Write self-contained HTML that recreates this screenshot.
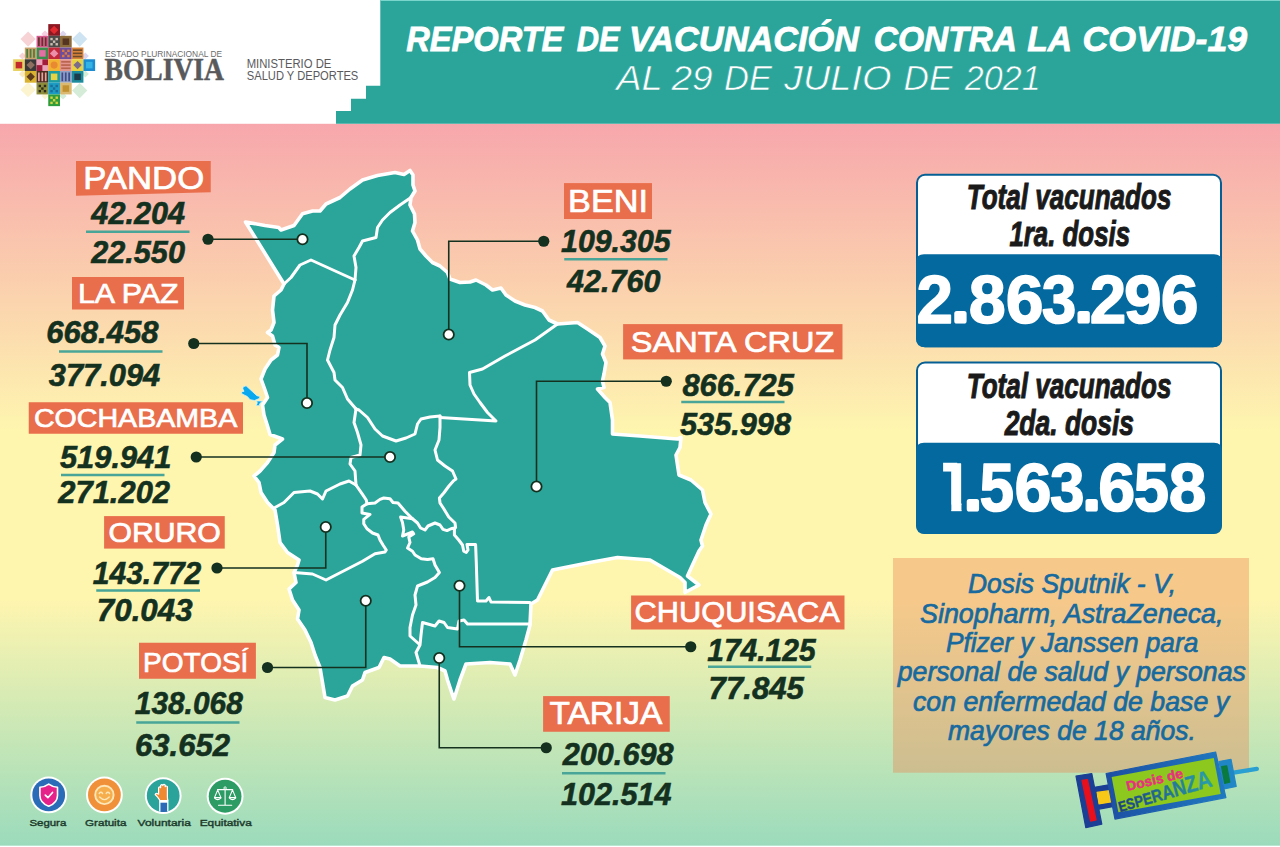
<!DOCTYPE html>
<html lang="es"><head><meta charset="utf-8"><title>Reporte de vacunación contra la COVID-19</title>
<style>
html,body{margin:0;padding:0;background:#fff;}
body{width:1280px;height:847px;overflow:hidden;font-family:"Liberation Sans",sans-serif;}
svg{display:block;}
text{font-family:"Liberation Sans",sans-serif;}
.serif{font-family:"Liberation Serif",serif;}
</style></head><body>
<svg width="1280" height="847" viewBox="0 0 1280 847">
<defs>
<linearGradient id="bg" x1="0" y1="0" x2="0" y2="1">
<stop offset="0" stop-color="#f7a7ac"/>
<stop offset="0.4245" stop-color="#fef5af"/>
<stop offset="0.66" stop-color="#fef5af"/>
<stop offset="1" stop-color="#9bdbbc"/>
</linearGradient>
<linearGradient id="esp" x1="0" y1="0" x2="1" y2="0">
<stop offset="0" stop-color="#1b3f80"/><stop offset="1" stop-color="#2aa0a8"/>
</linearGradient>
<linearGradient id="barrel" x1="0" y1="0" x2="1" y2="0">
<stop offset="0" stop-color="#1d4fa3"/><stop offset="1" stop-color="#1f79c0"/>
</linearGradient>
</defs>

<rect x="0" y="0" width="1280" height="847" fill="#fff"/>
<rect x="0" y="123.8" width="1280" height="721.9" fill="url(#bg)"/>
<path d="M380.3,0 H1280 V123.8 H336 V111.1 H351 V98.7 H366 V85.8 H380.3 Z" fill="#2ba59a"/>
<rect x="380.3" y="0" width="899.7" height="1" fill="#7ad6cc"/>
<text x="406.23" y="50.85" font-size="35.5" font-weight="bold" font-style="italic" fill="#fff" stroke="#fff" stroke-width="0.8" textLength="157.11" lengthAdjust="spacingAndGlyphs">REPORTE</text>
<text x="576.76" y="50.85" font-size="35.5" font-weight="bold" font-style="italic" fill="#fff" stroke="#fff" stroke-width="0.8" textLength="42.94" lengthAdjust="spacingAndGlyphs">DE</text>
<text x="628.97" y="50.85" font-size="35.5" font-weight="bold" font-style="italic" fill="#fff" stroke="#fff" stroke-width="0.8" textLength="229.99" lengthAdjust="spacingAndGlyphs">VACUNACIÓN</text>
<text x="873.72" y="50.85" font-size="35.5" font-weight="bold" font-style="italic" fill="#fff" stroke="#fff" stroke-width="0.8" textLength="143.30" lengthAdjust="spacingAndGlyphs">CONTRA</text>
<text x="1027.31" y="50.85" font-size="35.5" font-weight="bold" font-style="italic" fill="#fff" stroke="#fff" stroke-width="0.8" textLength="44.74" lengthAdjust="spacingAndGlyphs">LA</text>
<text x="1082.62" y="50.85" font-size="35.5" font-weight="bold" font-style="italic" fill="#fff" stroke="#fff" stroke-width="0.8" textLength="164.57" lengthAdjust="spacingAndGlyphs">COVID-19</text>
<text x="616.25" y="90.3" font-size="34.9" font-style="italic" fill="#fff" stroke="#2ba59a" stroke-width="0.6" textLength="46.48" lengthAdjust="spacingAndGlyphs">AL</text>
<text x="671.49" y="90.3" font-size="34.9" font-style="italic" fill="#fff" stroke="#2ba59a" stroke-width="0.6" textLength="41.24" lengthAdjust="spacingAndGlyphs">29</text>
<text x="724.06" y="90.3" font-size="34.9" font-style="italic" fill="#fff" stroke="#2ba59a" stroke-width="0.6" textLength="47.95" lengthAdjust="spacingAndGlyphs">DE</text>
<text x="784.09" y="90.3" font-size="34.9" font-style="italic" fill="#fff" stroke="#2ba59a" stroke-width="0.6" textLength="107.31" lengthAdjust="spacingAndGlyphs">JULIO</text>
<text x="903.64" y="90.3" font-size="34.9" font-style="italic" fill="#fff" stroke="#2ba59a" stroke-width="0.6" textLength="48.86" lengthAdjust="spacingAndGlyphs">DE</text>
<text x="964.87" y="90.3" font-size="34.9" font-style="italic" fill="#fff" stroke="#2ba59a" stroke-width="0.6" textLength="75.82" lengthAdjust="spacingAndGlyphs">2021</text>
<path d="M28.1,31.5 L35.7,39.1 L28.1,46.7 L20.5,39.1 Z" fill="#f8d3d6"/>
<path d="M79.7,31.5 L87.3,39.1 L79.7,46.7 L72.10000000000001,39.1 Z" fill="#cfe4f2"/>
<path d="M28.1,82.10000000000001 L35.7,89.7 L28.1,97.3 L20.5,89.7 Z" fill="#fbf4cf"/>
<path d="M79.7,83.0 L87.3,90.6 L79.7,98.19999999999999 L72.10000000000001,90.6 Z" fill="#d4ecd8"/>
<path d="M45,30.4 L48.6,34 L45,37.6 L41.4,34 Z" fill="#f6cfe0"/>
<path d="M63,30.4 L66.6,34 L63,37.6 L59.4,34 Z" fill="#ddd5ee"/>
<path d="M85.3,52.4 L88.89999999999999,56 L85.3,59.6 L81.7,56 Z" fill="#ddd5ee"/>
<path d="M85.3,70.4 L88.89999999999999,74 L85.3,77.6 L81.7,74 Z" fill="#d4ecd8"/>
<path d="M22.5,52.4 L26.1,56 L22.5,59.6 L18.9,56 Z" fill="#f8d3d6"/>
<path d="M22.5,70.4 L26.1,74 L22.5,77.6 L18.9,74 Z" fill="#fbe9c0"/>
<path d="M45,92.4 L48.6,96 L45,99.6 L41.4,96 Z" fill="#fbf4cf"/>
<path d="M63,92.4 L66.6,96 L63,99.6 L59.4,96 Z" fill="#d4ecd8"/>
<rect x="48.26" y="24.10" width="11.72" height="11.72" fill="#8b1822"/>
<path d="M54.12,25.74 L58.34,29.96 L54.12,34.18 L49.90,29.96 Z" fill="#e02a30"/>
<rect x="36.54" y="35.82" width="11.72" height="11.72" fill="#d65a8e"/>
<rect x="38.04" y="37.32" width="1.7" height="8.72" fill="#5e3526"/>
<rect x="41.44" y="37.32" width="1.7" height="8.72" fill="#5e3526"/>
<rect x="44.84" y="37.32" width="1.7" height="8.72" fill="#5e3526"/>
<rect x="48.26" y="35.82" width="11.72" height="11.72" fill="#4d4a4a"/>
<rect x="50.32" y="37.88" width="2.4" height="2.4" fill="#cdbfb2"/>
<rect x="55.52" y="37.88" width="2.4" height="2.4" fill="#cdbfb2"/>
<rect x="50.32" y="43.08" width="2.4" height="2.4" fill="#cdbfb2"/>
<rect x="55.52" y="43.08" width="2.4" height="2.4" fill="#cdbfb2"/>
<rect x="52.92" y="40.48" width="2.4" height="2.4" fill="#cdbfb2"/>
<rect x="59.98" y="35.82" width="11.72" height="11.72" fill="#8d6c3c"/>
<rect x="62.58" y="38.42" width="6.52" height="6.52" fill="#553522"/>
<rect x="24.82" y="47.54" width="11.72" height="11.72" fill="#c7a06c"/>
<rect x="26.32" y="49.04" width="1.7" height="8.72" fill="#4c7c3c"/>
<rect x="29.72" y="49.04" width="1.7" height="8.72" fill="#4c7c3c"/>
<rect x="33.12" y="49.04" width="1.7" height="8.72" fill="#4c7c3c"/>
<rect x="36.54" y="47.54" width="11.72" height="11.72" fill="#3c8d4c"/>
<rect x="39.14" y="50.14" width="6.52" height="6.52" fill="#e56fa5"/>
<rect x="48.26" y="47.54" width="11.72" height="11.72" fill="#c22a3c"/>
<path d="M54.12,49.18 L58.34,53.40 L54.12,57.62 L49.90,53.40 Z" fill="#eb8fab"/>
<rect x="59.98" y="47.54" width="11.72" height="11.72" fill="#6c4e9c"/>
<rect x="62.04" y="49.60" width="2.4" height="2.4" fill="#e07a3c"/>
<rect x="67.24" y="49.60" width="2.4" height="2.4" fill="#e07a3c"/>
<rect x="62.04" y="54.80" width="2.4" height="2.4" fill="#e07a3c"/>
<rect x="67.24" y="54.80" width="2.4" height="2.4" fill="#e07a3c"/>
<rect x="64.64" y="52.20" width="2.4" height="2.4" fill="#e07a3c"/>
<rect x="71.70" y="47.54" width="11.72" height="11.72" fill="#d8843c"/>
<rect x="72.90" y="49.34" width="9.32" height="1.6" fill="#6c4a2a"/>
<rect x="72.90" y="52.54" width="9.32" height="1.6" fill="#6c4a2a"/>
<rect x="72.90" y="55.74" width="9.32" height="1.6" fill="#6c4a2a"/>
<rect x="13.10" y="59.26" width="11.72" height="11.72" fill="#e9d262"/>
<rect x="15.70" y="61.86" width="6.52" height="6.52" fill="#c22a2c"/>
<rect x="24.82" y="59.26" width="11.72" height="11.72" fill="#3a3838"/>
<path d="M30.68,60.90 L34.90,65.12 L30.68,69.34 L26.46,65.12 Z" fill="#8f6f5f"/>
<rect x="36.54" y="59.26" width="11.72" height="11.72" fill="#a21c3c"/>
<rect x="36.54" y="59.26" width="5.86" height="5.86" fill="#eaa3ba"/><rect x="42.40" y="65.12" width="5.86" height="5.86" fill="#eaa3ba"/>
<rect x="48.26" y="59.26" width="11.72" height="11.72" fill="#f2b232"/>
<circle cx="54.12" cy="65.12" r="3.52" fill="#e98a32"/>
<rect x="59.98" y="59.26" width="11.72" height="11.72" fill="#e3948c"/>
<rect x="61.18" y="61.06" width="9.32" height="1.6" fill="#b9624c"/>
<rect x="61.18" y="64.26" width="9.32" height="1.6" fill="#b9624c"/>
<rect x="61.18" y="67.46" width="9.32" height="1.6" fill="#b9624c"/>
<rect x="71.70" y="59.26" width="11.72" height="11.72" fill="#e9d242"/>
<path d="M77.56,60.90 L81.78,65.12 L77.56,69.34 L73.34,65.12 Z" fill="#7c6c8c"/>
<rect x="83.42" y="59.26" width="11.72" height="11.72" fill="#1c8cd2"/>
<rect x="86.02" y="61.86" width="6.52" height="6.52" fill="#34b4e4"/>
<rect x="24.82" y="70.98" width="11.72" height="11.72" fill="#dab232"/>
<path d="M30.68,72.62 L34.90,76.84 L30.68,81.06 L26.46,76.84 Z" fill="#5c3c1c"/>
<rect x="36.54" y="70.98" width="11.72" height="11.72" fill="#4c2c1c"/>
<rect x="38.04" y="72.48" width="1.7" height="8.72" fill="#e9a3a3"/>
<rect x="41.44" y="72.48" width="1.7" height="8.72" fill="#e9a3a3"/>
<rect x="44.84" y="72.48" width="1.7" height="8.72" fill="#e9a3a3"/>
<rect x="48.26" y="70.98" width="11.72" height="11.72" fill="#1c9ca2"/>
<rect x="50.86" y="73.58" width="6.52" height="6.52" fill="#e9d242"/>
<rect x="59.98" y="70.98" width="11.72" height="11.72" fill="#909fc4"/>
<rect x="61.48" y="72.48" width="1.7" height="8.72" fill="#3c4c8c"/>
<rect x="64.88" y="72.48" width="1.7" height="8.72" fill="#3c4c8c"/>
<rect x="68.28" y="72.48" width="1.7" height="8.72" fill="#3c4c8c"/>
<rect x="71.70" y="70.98" width="11.72" height="11.72" fill="#1c8c9c"/>
<rect x="74.30" y="73.58" width="6.52" height="6.52" fill="#1c3c4c"/>
<rect x="36.54" y="82.70" width="11.72" height="11.72" fill="#8d8d3c"/>
<rect x="38.60" y="84.76" width="2.4" height="2.4" fill="#2c2a1c"/>
<rect x="43.80" y="84.76" width="2.4" height="2.4" fill="#2c2a1c"/>
<rect x="38.60" y="89.96" width="2.4" height="2.4" fill="#2c2a1c"/>
<rect x="43.80" y="89.96" width="2.4" height="2.4" fill="#2c2a1c"/>
<rect x="41.20" y="87.36" width="2.4" height="2.4" fill="#2c2a1c"/>
<rect x="48.26" y="82.70" width="11.72" height="11.72" fill="#1c9cc2"/>
<rect x="50.32" y="84.76" width="2.4" height="2.4" fill="#1c6c9c"/>
<rect x="55.52" y="84.76" width="2.4" height="2.4" fill="#1c6c9c"/>
<rect x="50.32" y="89.96" width="2.4" height="2.4" fill="#1c6c9c"/>
<rect x="55.52" y="89.96" width="2.4" height="2.4" fill="#1c6c9c"/>
<rect x="52.92" y="87.36" width="2.4" height="2.4" fill="#1c6c9c"/>
<rect x="59.98" y="82.70" width="11.72" height="11.72" fill="#dab972"/>
<rect x="62.58" y="85.30" width="6.52" height="6.52" fill="#c29232"/>
<rect x="48.26" y="94.42" width="11.72" height="11.72" fill="#2c9c3c"/>
<rect x="50.32" y="96.48" width="2.4" height="2.4" fill="#d8d040"/>
<rect x="55.52" y="96.48" width="2.4" height="2.4" fill="#d8d040"/>
<rect x="50.32" y="101.68" width="2.4" height="2.4" fill="#d8d040"/>
<rect x="55.52" y="101.68" width="2.4" height="2.4" fill="#d8d040"/>
<rect x="52.92" y="99.08" width="2.4" height="2.4" fill="#d8d040"/>
<text x="105" y="57" font-size="8.5" fill="#6b6b6b" textLength="117" lengthAdjust="spacingAndGlyphs">ESTADO PLURINACIONAL DE</text>
<text class="serif" x="104.5" y="79.8" font-size="30.5" font-weight="bold" fill="#58595b" stroke="#58595b" stroke-width="0.5" textLength="119.5" lengthAdjust="spacingAndGlyphs">BOLIVIA</text>
<text x="246.67" y="67.8" font-size="12.1" fill="#5a5a5c" textLength="84.72" lengthAdjust="spacingAndGlyphs">MINISTERIO DE</text>
<text x="246.80" y="80" font-size="12.1" fill="#5a5a5c" textLength="111.52" lengthAdjust="spacingAndGlyphs">SALUD Y DEPORTES</text>
<path d="M245.5,222 L265,225.5 L278.75,227.5 L281,230 L294,225.5 L302.5,213.75 L312.5,211 L320,211 L326,204 L340,197.5 L350,189 L362.5,180 L377.5,175.5 L395,172.5 L404,174.5 L410,170.5 L413,175 L413,185 L415,191 L411,197.5 L410,205 L414.5,214 L415,222.5 L412.5,231 L417.5,240 L420,249 L426,256 L432.5,262.5 L440,266 L447.5,272.5 L450,279 L460,282.5 L470,282 L476,280 L486,285 L492.5,290 L501,288 L506,295 L515,301 L525,305 L535,307.5 L542.5,311 L549,320 L557.5,324 L577.5,322.5 L587.5,329 L600,337.5 L605,346 L602.5,354 L606,362.5 L604,374 L602.5,381 L604,387.5 L597.5,389 L605,397.5 L610,402.5 L612.5,420 L612.5,434 L640,436 L677.5,439 L681,437.5 L680,447.5 L676,455 L679,475 L691,480 L702.5,490 L705,502.5 L711,514 L706,525 L701,540 L702.5,546 L699,551 L692.5,565 L687.5,576 L699,585 L685,592.5 L685,582.5 L680,577.5 L650,560 L617.5,557.5 L590,562.5 L552.5,570 L545,585 L537.5,600 L531,604 L530,625 L526,640 L520,660 L515,675 L510,664 L490,662.5 L466,664 L460,680 L454,699 L452.5,695 L447.5,680 L445,671 L437.5,667.5 L420,666 L400,666 L390,659 L384,657.5 L379,667.5 L365,672.5 L362.5,680 L352.5,686 L347.5,696 L335,700 L325,697.5 L322.5,682.5 L320,667.5 L315,655 L311,642.5 L305,630 L297.5,619 L299,610 L292.5,600 L289,589 L296,582.5 L294,572.5 L297.5,565 L299,560 L287.5,552.5 L280,542.5 L277.5,525 L275,510 L267.5,502.5 L261,492.5 L259,482.5 L254,476 L260,471 L267.5,462.5 L274,452.5 L275,445 L282.5,439 L270,434.5 L267.5,426 L264,415 L262.5,405 L267.5,397.5 L265,390 L261,379 L265,369 L271,360 L277.5,355 L279,347.5 L275,345 L272.5,336 L267.5,332.5 L271,330 L274,322.5 L272.5,310 L274,296 L281,290 L284,284 Z" fill="#2ba59a" stroke="#fff" stroke-width="3.6" stroke-linejoin="round"/>
<path d="M284,284 L291,277.5 L300,265 L311,260 L355,280" fill="none" stroke="#fff" stroke-width="3" stroke-linejoin="round" stroke-linecap="round"/>
<path d="M411,197.5 L400,205 L390,212.5 L382.5,220 L377.5,227.5 L376,237.5 L362.5,241 L359,247.5 L354,256 L356,267.5 L355,280" fill="none" stroke="#fff" stroke-width="3" stroke-linejoin="round" stroke-linecap="round"/>
<path d="M355,280 L352.5,290 L347.5,302.5 L340,315 L335,325 L334,337.5 L330,350 L327.5,360 L334,372.5 L335,380 L342.5,387.5 L347.5,399 L356,409" fill="none" stroke="#fff" stroke-width="3" stroke-linejoin="round" stroke-linecap="round"/>
<path d="M356,409 L359,410 L367.5,417.5 L375,429 L382.5,436 L396,441 L406,438 L415,434 L417.5,424 L421,419 L430,417 L440,416" fill="none" stroke="#fff" stroke-width="3" stroke-linejoin="round" stroke-linecap="round"/>
<path d="M440,417.5 L496,421 L487.5,412.5 L480,402.5 L474,394 L470,385 L469.5,372.5 L482.5,369 L505,356 L535,340 L557.5,324" fill="none" stroke="#fff" stroke-width="3" stroke-linejoin="round" stroke-linecap="round"/>
<path d="M356,409 L354,422.5 L357.5,432.5 L361,445 L360,455 L351,457.5 L350,464 L355,471 L356,485" fill="none" stroke="#fff" stroke-width="3" stroke-linejoin="round" stroke-linecap="round"/>
<path d="M275,507.5 L284,502.5 L294,492.5 L310,491 L317.5,494 L322.5,499 L326,491 L340,484 L349,481 L356,485" fill="none" stroke="#fff" stroke-width="3" stroke-linejoin="round" stroke-linecap="round"/>
<path d="M356,485 L362.5,494.4 L366.25,500 L367,503.75" fill="none" stroke="#fff" stroke-width="3" stroke-linejoin="round" stroke-linecap="round"/>
<path d="M367,503.75 L375,503 L380,499.4 L383.75,498 L390,498.75 L393,502.5 L398,503 L405,511.25 L412.5,518.75 L417.5,523 L420.6,528 L425,530 L428,526 L435,523 L440,525 L443,529.4 L447,530.6 L451,528.75 L454.4,528" fill="none" stroke="#fff" stroke-width="3" stroke-linejoin="round" stroke-linecap="round"/>
<path d="M440,416 L440,427.5 L439,440 L435,450 L437.5,460 L445,466 L452.5,471 L456,479 L453.75,480.6 L448.75,486.25 L443.75,493 L439.4,498 L440,503 L443.75,508.75 L448.75,517 L455,523 L455.6,527.5 L454.4,528.75" fill="none" stroke="#fff" stroke-width="3" stroke-linejoin="round" stroke-linecap="round"/>
<path d="M367,503.75 L362,507 L362,513 L370,514.4 L363.75,519.4 L363.75,523.75 L367,528.75 L372.5,533 L378,535 L380,540 L383,545 L386.25,550 L385,552 L375,553.75 L362.5,561.25 L326,580 L312.5,574 L294,572.5" fill="none" stroke="#fff" stroke-width="3" stroke-linejoin="round" stroke-linecap="round"/>
<path d="M412.5,518.75 L400.6,517 L402.5,522.5 L403.75,530 L402.5,536 L412.5,532 L413.75,533.75 L408.75,537 L410,542.5 L407.5,548 L412.5,551.25 L415,555 L421.25,558.75 L427.5,559.4 L433,558.75 L435,565 L439.4,572.5 L435,577.5 L427.5,582 L417.5,586 L415,595 L416,605 L412.5,615 L410,627.5 L410,636 L419,644" fill="none" stroke="#fff" stroke-width="3" stroke-linejoin="round" stroke-linecap="round"/>
<path d="M454.4,528.75 L454.4,535 L458.75,540 L462.5,545 L463.75,551.25 L466.25,552.5 L468,550 L467,544.4 L475.6,544.6 L476.25,561.25 L477.5,601 L486,601 L489,597.5 L491,602 L530,602.5" fill="none" stroke="#fff" stroke-width="3" stroke-linejoin="round" stroke-linecap="round"/>
<path d="M530,624 L467.5,624 L464,620 L459,621 L457.5,629 L447.5,627.5 L444,622.5 L439,621 L435,626 L422.5,622.5 L421,635 L420,645 L416,652.5 L420,666" fill="none" stroke="#fff" stroke-width="3" stroke-linejoin="round" stroke-linecap="round"/>
<path d="M243.2,386.8 L246.1,385.8 L252.1,391.3 L256.9,395.7 L260.1,396.5 L259.3,398.5 L254.5,400.5 L250.1,399.7 L247.3,396.5 L244,394.9 L241.2,393.3 L242,391.7 L244,391.3 L242.8,388.8 Z M256.5,400.9 L262.5,401.1 L259.7,403.7 L259.3,405.7 L256.1,405.7 L257.3,402.9 Z" fill="#08a8ee" stroke="#d8f6f6" stroke-width="0.8" stroke-linejoin="round"/>
<path d="M208,239.25 L302.5,239.25" fill="none" stroke="#14301f" stroke-width="1.6"/>
<circle cx="208" cy="239.25" r="5.6" fill="#14301f"/>
<circle cx="302.5" cy="239.25" r="5.15" fill="#fff" stroke="#14301f" stroke-width="1.8"/>
<path d="M193.75,343.5 L307,343.5 L307,403" fill="none" stroke="#14301f" stroke-width="1.6"/>
<circle cx="193.75" cy="343.5" r="5.6" fill="#14301f"/>
<circle cx="307" cy="403" r="5.15" fill="#fff" stroke="#14301f" stroke-width="1.8"/>
<path d="M196.25,457 L390,457" fill="none" stroke="#14301f" stroke-width="1.6"/>
<circle cx="196.25" cy="457" r="5.6" fill="#14301f"/>
<circle cx="390" cy="457" r="5.15" fill="#fff" stroke="#14301f" stroke-width="1.8"/>
<path d="M217,568 L325.75,568 L325.75,527" fill="none" stroke="#14301f" stroke-width="1.6"/>
<circle cx="217" cy="568" r="5.6" fill="#14301f"/>
<circle cx="325.75" cy="527" r="5.15" fill="#fff" stroke="#14301f" stroke-width="1.8"/>
<path d="M267.5,667.5 L365.75,667.5 L365.75,600.75" fill="none" stroke="#14301f" stroke-width="1.6"/>
<circle cx="267.5" cy="667.5" r="5.6" fill="#14301f"/>
<circle cx="365.75" cy="600.75" r="5.15" fill="#fff" stroke="#14301f" stroke-width="1.8"/>
<path d="M543.75,241.25 L448.75,241.25 L448.75,334.5" fill="none" stroke="#14301f" stroke-width="1.6"/>
<circle cx="543.75" cy="241.25" r="5.6" fill="#14301f"/>
<circle cx="448.75" cy="334.5" r="5.15" fill="#fff" stroke="#14301f" stroke-width="1.8"/>
<path d="M666.25,381.25 L536.5,381.25 L536.5,486.5" fill="none" stroke="#14301f" stroke-width="1.6"/>
<circle cx="666.25" cy="381.25" r="5.6" fill="#14301f"/>
<circle cx="536.5" cy="486.5" r="5.15" fill="#fff" stroke="#14301f" stroke-width="1.8"/>
<path d="M690.75,646.75 L459.5,646.75 L459.5,585.75" fill="none" stroke="#14301f" stroke-width="1.6"/>
<circle cx="690.75" cy="646.75" r="5.6" fill="#14301f"/>
<circle cx="459.5" cy="585.75" r="5.15" fill="#fff" stroke="#14301f" stroke-width="1.8"/>
<path d="M546.25,747.75 L439.25,747.75 L439.25,658" fill="none" stroke="#14301f" stroke-width="1.6"/>
<circle cx="546.25" cy="747.75" r="5.6" fill="#14301f"/>
<circle cx="439.25" cy="658" r="5.15" fill="#fff" stroke="#14301f" stroke-width="1.8"/>
<path d="M76,161 H210.75 V192.25 L76,195.75 Z" fill="#e96e4c"/>
<text x="83.23" y="188.90" font-size="31.32" fill="#fff" stroke="#fff" stroke-width="0.7" textLength="120.95" lengthAdjust="spacingAndGlyphs">PANDO</text>
<rect x="72" y="277" width="112" height="32.5" fill="#e96e4c"/>
<text x="77.92" y="302.65" font-size="28.42" fill="#fff" stroke="#fff" stroke-width="0.7" textLength="100.69" lengthAdjust="spacingAndGlyphs">LA PAZ</text>
<rect x="28.75" y="402.25" width="214.25" height="31.5" fill="#e96e4c"/>
<text x="33.92" y="427.40" font-size="26.24" fill="#fff" stroke="#fff" stroke-width="0.7" textLength="203.30" lengthAdjust="spacingAndGlyphs">COCHABAMBA</text>
<rect x="104.1" y="516.1" width="120.65" height="32.5" fill="#e96e4c"/>
<text x="108.42" y="541.65" font-size="26.96" fill="#fff" stroke="#fff" stroke-width="0.7" textLength="112.41" lengthAdjust="spacingAndGlyphs">ORURO</text>
<rect x="139" y="642.75" width="116.9" height="36" fill="#e96e4c"/>
<text x="143.04" y="671.75" font-size="26.74" fill="#fff" stroke="#fff" stroke-width="0.7" textLength="105.37" lengthAdjust="spacingAndGlyphs">POTOSÍ</text>
<rect x="564" y="183.1" width="88" height="35.9" fill="#e96e4c"/>
<text x="568.12" y="211.75" font-size="30.74" fill="#fff" stroke="#fff" stroke-width="0.7" textLength="80.00" lengthAdjust="spacingAndGlyphs">BENI</text>
<rect x="623.1" y="324.1" width="219.4" height="35.3" fill="#e96e4c"/>
<text x="630.79" y="351.90" font-size="30.23" fill="#fff" stroke="#fff" stroke-width="0.7" textLength="203.59" lengthAdjust="spacingAndGlyphs">SANTA CRUZ</text>
<rect x="631.1" y="595.5" width="213.4" height="34" fill="#e96e4c"/>
<text x="634.56" y="621.65" font-size="29.36" fill="#fff" stroke="#fff" stroke-width="0.7" textLength="205.17" lengthAdjust="spacingAndGlyphs">CHUQUISACA</text>
<rect x="543.1" y="696.1" width="126.65" height="35.65" fill="#e96e4c"/>
<text x="549.60" y="723.90" font-size="31.32" fill="#fff" stroke="#fff" stroke-width="0.7" textLength="112.66" lengthAdjust="spacingAndGlyphs">TARIJA</text>
<text x="91.34" y="224.1" font-size="31.8" font-weight="bold" font-style="italic" fill="#14301f" stroke="#14301f" stroke-width="0.6" textLength="93.86" lengthAdjust="spacingAndGlyphs">42.204</text>
<text x="91.26" y="262.6" font-size="31.8" font-weight="bold" font-style="italic" fill="#14301f" stroke="#14301f" stroke-width="0.6" textLength="93.71" lengthAdjust="spacingAndGlyphs">22.550</text>
<text x="46.33" y="343.35" font-size="31.8" font-weight="bold" font-style="italic" fill="#14301f" stroke="#14301f" stroke-width="0.6" textLength="112.20" lengthAdjust="spacingAndGlyphs">668.458</text>
<text x="48.82" y="385.85" font-size="31.8" font-weight="bold" font-style="italic" fill="#14301f" stroke="#14301f" stroke-width="0.6" textLength="111.42" lengthAdjust="spacingAndGlyphs">377.094</text>
<text x="59.99" y="468.35" font-size="31.8" font-weight="bold" font-style="italic" fill="#14301f" stroke="#14301f" stroke-width="0.6" textLength="111.40" lengthAdjust="spacingAndGlyphs">519.941</text>
<text x="58.26" y="503.35" font-size="31.8" font-weight="bold" font-style="italic" fill="#14301f" stroke="#14301f" stroke-width="0.6" textLength="111.82" lengthAdjust="spacingAndGlyphs">271.202</text>
<text x="92.77" y="584.1" font-size="31.8" font-weight="bold" font-style="italic" fill="#14301f" stroke="#14301f" stroke-width="0.6" textLength="108.55" lengthAdjust="spacingAndGlyphs">143.772</text>
<text x="96.86" y="620.85" font-size="31.8" font-weight="bold" font-style="italic" fill="#14301f" stroke="#14301f" stroke-width="0.6" textLength="95.69" lengthAdjust="spacingAndGlyphs">70.043</text>
<text x="134.78" y="714.1" font-size="31.8" font-weight="bold" font-style="italic" fill="#14301f" stroke="#14301f" stroke-width="0.6" textLength="107.99" lengthAdjust="spacingAndGlyphs">138.068</text>
<text x="135.08" y="755.6" font-size="31.8" font-weight="bold" font-style="italic" fill="#14301f" stroke="#14301f" stroke-width="0.6" textLength="94.97" lengthAdjust="spacingAndGlyphs">63.652</text>
<text x="561.02" y="251.6" font-size="31.8" font-weight="bold" font-style="italic" fill="#14301f" stroke="#14301f" stroke-width="0.6" textLength="109.62" lengthAdjust="spacingAndGlyphs">109.305</text>
<text x="567.08" y="292.1" font-size="31.8" font-weight="bold" font-style="italic" fill="#14301f" stroke="#14301f" stroke-width="0.6" textLength="93.38" lengthAdjust="spacingAndGlyphs">42.760</text>
<text x="682.41" y="395.85" font-size="31.8" font-weight="bold" font-style="italic" fill="#14301f" stroke="#14301f" stroke-width="0.6" textLength="111.47" lengthAdjust="spacingAndGlyphs">866.725</text>
<text x="679.99" y="435.1" font-size="31.8" font-weight="bold" font-style="italic" fill="#14301f" stroke="#14301f" stroke-width="0.6" textLength="111.03" lengthAdjust="spacingAndGlyphs">535.998</text>
<text x="707.28" y="660.85" font-size="31.8" font-weight="bold" font-style="italic" fill="#14301f" stroke="#14301f" stroke-width="0.6" textLength="108.37" lengthAdjust="spacingAndGlyphs">174.125</text>
<text x="708.62" y="699.1" font-size="31.8" font-weight="bold" font-style="italic" fill="#14301f" stroke="#14301f" stroke-width="0.6" textLength="95.23" lengthAdjust="spacingAndGlyphs">77.845</text>
<text x="562.76" y="764.6" font-size="31.8" font-weight="bold" font-style="italic" fill="#14301f" stroke="#14301f" stroke-width="0.6" textLength="110.76" lengthAdjust="spacingAndGlyphs">200.698</text>
<text x="561.02" y="805.1" font-size="31.8" font-weight="bold" font-style="italic" fill="#14301f" stroke="#14301f" stroke-width="0.6" textLength="110.47" lengthAdjust="spacingAndGlyphs">102.514</text>
<rect x="86" y="230.5" width="103.5" height="2.5" fill="#48a598"/>
<rect x="59" y="350.25" width="103.5" height="2.5" fill="#48a598"/>
<rect x="61" y="473.75" width="103.5" height="2.5" fill="#48a598"/>
<rect x="96.25" y="589.25" width="103.75" height="2.5" fill="#48a598"/>
<rect x="136.25" y="721.25" width="103.25" height="2.5" fill="#48a598"/>
<rect x="564.25" y="258.0" width="103.25" height="2.5" fill="#48a598"/>
<rect x="681.25" y="400.75" width="103.25" height="2.5" fill="#48a598"/>
<rect x="708" y="665.5" width="103.25" height="2.5" fill="#48a598"/>
<rect x="562" y="772.0" width="103.5" height="2.5" fill="#48a598"/>
<rect x="917" y="174.8" width="304" height="171.4" rx="8" ry="8" fill="#fff" stroke="#065f94" stroke-width="2"/>
<path d="M916,262.3 Q916,254.3 924,254.3 H1214 Q1222,254.3 1222,262.3 V338.2 Q1222,347.2 1213,347.2 H925 Q916,347.2 916,338.2 Z" fill="#04699f"/>
<text x="966.71" y="208.6" font-size="35" font-weight="bold" font-style="italic" fill="#1a1a1a" stroke="#1a1a1a" stroke-width="1" textLength="204.67" lengthAdjust="spacingAndGlyphs">Total vacunados</text>
<text x="1009.45" y="246.1" font-size="35" font-weight="bold" font-style="italic" fill="#1a1a1a" stroke="#1a1a1a" stroke-width="1" textLength="120.63" lengthAdjust="spacingAndGlyphs">1ra. dosis</text>
<text transform="translate(916.60,322.7) scale(0.9451,1)" font-size="69.4" font-weight="bold" fill="#fff" stroke="#fff" stroke-width="1.6" stroke-linejoin="round">2</text>
<text x="953.60" y="320.70" font-size="50" font-weight="bold" fill="#fff" stroke="#fff" stroke-width="5.2" stroke-linejoin="round">.</text>
<text transform="translate(968.67,322.7) scale(0.9587,1)" font-size="69.4" font-weight="bold" fill="#fff" stroke="#fff" stroke-width="1.6" stroke-linejoin="round">8</text>
<text transform="translate(1005.79,322.7) scale(0.9785,1)" font-size="69.4" font-weight="bold" fill="#fff" stroke="#fff" stroke-width="1.6" stroke-linejoin="round">6</text>
<text transform="translate(1041.87,322.7) scale(0.8959,1)" font-size="69.4" font-weight="bold" fill="#fff" stroke="#fff" stroke-width="1.6" stroke-linejoin="round">3</text>
<text x="1076.70" y="320.70" font-size="50" font-weight="bold" fill="#fff" stroke="#fff" stroke-width="5.2" stroke-linejoin="round">.</text>
<text transform="translate(1089.75,322.7) scale(0.9451,1)" font-size="69.4" font-weight="bold" fill="#fff" stroke="#fff" stroke-width="1.6" stroke-linejoin="round">2</text>
<text transform="translate(1124.03,322.7) scale(0.9765,1)" font-size="69.4" font-weight="bold" fill="#fff" stroke="#fff" stroke-width="1.6" stroke-linejoin="round">9</text>
<text transform="translate(1160.79,322.7) scale(0.9785,1)" font-size="69.4" font-weight="bold" fill="#fff" stroke="#fff" stroke-width="1.6" stroke-linejoin="round">6</text>
<rect x="917" y="362.5" width="304" height="170.5" rx="8" ry="8" fill="#fff" stroke="#065f94" stroke-width="2"/>
<path d="M916,450.7 Q916,442.7 924,442.7 H1214 Q1222,442.7 1222,450.7 V525 Q1222,534 1213,534 H925 Q916,534 916,525 Z" fill="#04699f"/>
<text x="966.71" y="397.5" font-size="35" font-weight="bold" font-style="italic" fill="#1a1a1a" stroke="#1a1a1a" stroke-width="1" textLength="204.67" lengthAdjust="spacingAndGlyphs">Total vacunados</text>
<text x="1004.65" y="435.4" font-size="35" font-weight="bold" font-style="italic" fill="#1a1a1a" stroke="#1a1a1a" stroke-width="1" textLength="129.43" lengthAdjust="spacingAndGlyphs">2da. dosis</text>
<clipPath id="one1"><rect x="951.35" y="451.3" width="10.1" height="60"/></clipPath>
<text x="934.70" y="511.3" font-size="69.4" font-weight="bold" fill="#fff" stroke="#fff" stroke-width="1.6" stroke-linejoin="round" clip-path="url(#one1)">1</text>
<rect x="943.10" y="462.75" width="14.15" height="8.8" fill="#fff"/>
<text x="966.10" y="509.30" font-size="50" font-weight="bold" fill="#fff" stroke="#fff" stroke-width="5.2" stroke-linejoin="round">.</text>
<text transform="translate(979.47,511.3) scale(0.8959,1)" font-size="69.4" font-weight="bold" fill="#fff" stroke="#fff" stroke-width="1.6" stroke-linejoin="round">5</text>
<text transform="translate(1014.59,511.3) scale(0.9591,1)" font-size="69.4" font-weight="bold" fill="#fff" stroke="#fff" stroke-width="1.6" stroke-linejoin="round">6</text>
<text transform="translate(1049.97,511.3) scale(0.8930,1)" font-size="69.4" font-weight="bold" fill="#fff" stroke="#fff" stroke-width="1.6" stroke-linejoin="round">3</text>
<text x="1084.80" y="509.30" font-size="50" font-weight="bold" fill="#fff" stroke="#fff" stroke-width="5.2" stroke-linejoin="round">.</text>
<text transform="translate(1098.34,511.3) scale(0.9591,1)" font-size="69.4" font-weight="bold" fill="#fff" stroke="#fff" stroke-width="1.6" stroke-linejoin="round">6</text>
<text transform="translate(1133.84,511.3) scale(0.9133,1)" font-size="69.4" font-weight="bold" fill="#fff" stroke="#fff" stroke-width="1.6" stroke-linejoin="round">5</text>
<text transform="translate(1168.63,511.3) scale(0.9762,1)" font-size="69.4" font-weight="bold" fill="#fff" stroke="#fff" stroke-width="1.6" stroke-linejoin="round">8</text>
<rect x="893" y="558" width="356" height="214.7" fill="#ea8655" fill-opacity="0.4"/>
<text x="968" y="593.0" font-size="27.5" font-style="italic" fill="#186a9e" stroke="#186a9e" stroke-width="0.7" textLength="208" lengthAdjust="spacingAndGlyphs">Dosis Sputnik - V,</text>
<text x="920" y="622.6" font-size="27.5" font-style="italic" fill="#186a9e" stroke="#186a9e" stroke-width="0.7" textLength="303.5" lengthAdjust="spacingAndGlyphs">Sinopharm, AstraZeneca,</text>
<text x="946" y="651.5" font-size="27.5" font-style="italic" fill="#186a9e" stroke="#186a9e" stroke-width="0.7" textLength="252.3" lengthAdjust="spacingAndGlyphs">Pfizer y Janssen para</text>
<text x="897.8" y="681.1" font-size="27.5" font-style="italic" fill="#186a9e" stroke="#186a9e" stroke-width="0.7" textLength="348" lengthAdjust="spacingAndGlyphs">personal de salud y personas</text>
<text x="913" y="710.8" font-size="27.5" font-style="italic" fill="#186a9e" stroke="#186a9e" stroke-width="0.7" textLength="316" lengthAdjust="spacingAndGlyphs">con enfermedad de base y</text>
<text x="948" y="739.6" font-size="27.5" font-style="italic" fill="#186a9e" stroke="#186a9e" stroke-width="0.7" textLength="248" lengthAdjust="spacingAndGlyphs">mayores de 18 años.</text>
<path d="M1233.6,772.7 L1256.8,768.9" stroke="#2a9fd2" stroke-width="4.4" stroke-linecap="round"/>
<path d="M1219,761.5 L1231,759.3 L1236.2,786.4 L1224.1,789 Z" fill="#2186c6" stroke="#2186c6" stroke-width="1.2" stroke-linejoin="round"/>
<path d="M1221.6,766.6 L1226.7,765.8 L1229.8,782.1 L1224.7,783.3 Z" fill="#0a7a3e" stroke="#0a7a3e" stroke-width="1.2" stroke-linejoin="round"/>
<path d="M1094.4,787.3 L1111.6,784.3 L1115.3,806.2 L1099.2,809.1 Z" fill="#1b3f94" stroke="#1b3f94" stroke-width="1.2" stroke-linejoin="round"/>
<path d="M1097,792.4 L1109.8,790.7 L1111,801.9 L1098.7,803.9 Z" fill="#f8c818" stroke="#f8c818" stroke-width="1.2" stroke-linejoin="round"/>
<path d="M1076,776.1 L1091.8,773.5 L1101.8,824.2 L1085.8,827.7 Z" fill="#1b3f94" stroke="#1b3f94" stroke-width="1.2" stroke-linejoin="round"/>
<path d="M1082,780.4 L1087.5,779.5 L1096.1,819.9 L1090.6,821.1 Z" fill="#e8101c" stroke="#e8101c" stroke-width="1.2" stroke-linejoin="round"/>
<path d="M1106.1,773.5 L1215.6,752 L1225.9,797.6 L1115,819.1 Z" fill="url(#barrel)" stroke="url(#barrel)" stroke-width="1.2" stroke-linejoin="round"/>
<path d="M1111.6,777 L1213.8,758 L1220.7,794.1 L1118.4,812.2 Z" fill="#8cc81e"/>
<g transform="translate(1127.5,791) rotate(-13.6)"><text x="0" y="0" font-size="13.5" font-weight="bold" fill="#e8317d" stroke="#e8317d" stroke-width="0.5" textLength="58" lengthAdjust="spacingAndGlyphs">Dosis de</text></g>
<g transform="translate(1120,812) rotate(-15.5) scale(1,1.25)"><text x="0" y="0" font-weight="bold" fill="url(#esp)" stroke="url(#esp)" stroke-width="0.3" textLength="97" lengthAdjust="spacingAndGlyphs"><tspan font-size="11.5">E</tspan><tspan font-size="12">S</tspan><tspan font-size="12.5">P</tspan><tspan font-size="13">E</tspan><tspan font-size="14">R</tspan><tspan font-size="15.5">A</tspan><tspan font-size="17">N</tspan><tspan font-size="18.5">Z</tspan><tspan font-size="19.5">A</tspan></text></g>
<circle cx="48.7" cy="794.9" r="18.4" fill="#fff"/><circle cx="48.7" cy="794.9" r="16.4" fill="#2b6cb8"/>
<path d="M48.7,784.1 C51.7,786.3 54.7,787.1 57.5,787.3 V795.4 C57.5,800.9 53.2,804.4 48.7,806.3 C44.2,804.4 39.900000000000006,800.9 39.900000000000006,795.4 V787.3 C42.7,787.1 45.7,786.3 48.7,784.1 Z" fill="#e5228a" stroke="#fff" stroke-width="1.6" stroke-linejoin="round"/>
<path d="M45.300000000000004,795.1 L47.900000000000006,797.6999999999999 L52.5,792.5" fill="none" stroke="#fff" stroke-width="1.7" stroke-linecap="round" stroke-linejoin="round"/>
<circle cx="104.4" cy="794.9" r="18.4" fill="#fff"/><circle cx="104.4" cy="794.9" r="16.4" fill="#f0913a"/>
<circle cx="104.4" cy="794.9" r="9.2" fill="#f6ae4c" stroke="#fde6b8" stroke-width="1.9"/>
<path d="M99.2,793.5 q1.7,-2.4 3.4,0 M106.2,793.5 q1.7,-2.4 3.4,0 M99.60000000000001,797.1 q4.8,5 9.6,0" fill="none" stroke="#fde6b8" stroke-width="1.4" stroke-linecap="round"/>
<circle cx="163.2" cy="795.7" r="18.4" fill="#fff"/><circle cx="163.2" cy="795.7" r="16.4" fill="#2aa39a"/>
<clipPath id="c3"><circle cx="163.2" cy="795.7" r="16.4"/></clipPath>
<g clip-path="url(#c3)"><rect x="159.79999999999998" y="800.3000000000001" width="8" height="13" fill="#2c69b6" stroke="#fff" stroke-width="1.3"/><rect x="159.79999999999998" y="800.9000000000001" width="8" height="1.8" fill="#fff"/></g>
<path d="M160.0,800.5 L157.6,797.1 L155.2,794.5 Q155.79999999999998,792.5 158.6,794.3000000000001 V787.7 Q159.6,786.1 160.6,787.7 V785.5 Q161.7,783.9000000000001 162.79999999999998,785.5 V785.1 Q164.0,783.5 165.2,785.1 V786.7 Q166.29999999999998,785.3000000000001 167.39999999999998,786.7 V796.7 Q167.6,799.1 167.6,800.5 Z" fill="#f08a32" stroke="#fff" stroke-width="1.2" stroke-linejoin="round"/>
<circle cx="225.1" cy="796.25" r="18.4" fill="#fff"/><circle cx="225.1" cy="796.25" r="16.4" fill="#2d9c64"/>
<g fill="none" stroke="#fff" stroke-width="1.1" stroke-linecap="round" stroke-linejoin="round"><path d="M225.1,787.85 V804.85 M218.5,805.25 H231.7 M217.5,789.65 H232.7"/><path d="M217.7,789.85 L214.5,797.65 H220.9 Z M232.5,789.85 L229.29999999999998,797.65 H235.7 Z"/><path d="M214.5,797.85 q3.2,3.6 6.4,0 M229.29999999999998,797.85 q3.2,3.6 6.4,0"/></g>
<circle cx="225.1" cy="788.05" r="1.2" fill="#2d9c64" stroke="#fff" stroke-width="0.9"/>
<text x="29.4" y="826" font-size="9.6" fill="#1c3a2c" stroke="#1c3a2c" stroke-width="0.4" textLength="36.9" lengthAdjust="spacingAndGlyphs">Segura</text>
<text x="85" y="826" font-size="9.6" fill="#1c3a2c" stroke="#1c3a2c" stroke-width="0.4" textLength="41.4" lengthAdjust="spacingAndGlyphs">Gratuita</text>
<text x="137.6" y="826" font-size="9.6" fill="#1c3a2c" stroke="#1c3a2c" stroke-width="0.4" textLength="53.3" lengthAdjust="spacingAndGlyphs">Voluntaria</text>
<text x="199.7" y="826" font-size="9.6" fill="#1c3a2c" stroke="#1c3a2c" stroke-width="0.4" textLength="52.1" lengthAdjust="spacingAndGlyphs">Equitativa</text>
</svg>
</body></html>
